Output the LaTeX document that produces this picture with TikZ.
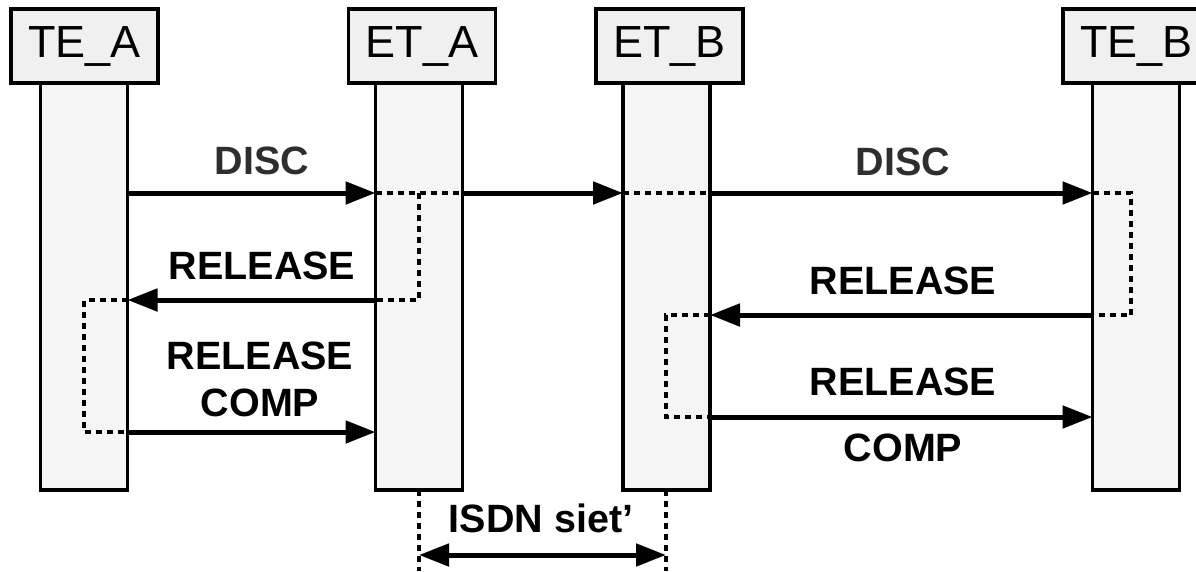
\documentclass[tikz,border=0pt]{standalone}
\usepackage{fontspec}
\setmainfont{Liberation Sans}
\usetikzlibrary{arrows.meta}
\begin{document}
\begin{tikzpicture}[x=1pt,y=-1pt,
  hdr/.style={draw,line width=3.5pt,fill=black!6,minimum width=147pt,minimum height=74pt,inner sep=0pt,outer sep=0pt,font=\fontsize{45}{50}\selectfont},
  lifebar/.style={draw,line width=3.5pt,fill=black!4,minimum width=87pt,minimum height=407pt,inner sep=0pt,outer sep=0pt},
  msg/.style={line width=5pt,-{Triangle[length=30pt,width=22pt]}},
  dmsg/.style={line width=5pt,{Triangle[length=30pt,width=22pt]}-{Triangle[length=30pt,width=22pt]}},
  dots/.style={line width=3.5pt,dash pattern=on 6pt off 5pt},
  lbl/.style={font=\bfseries\fontsize{39.5}{43}\selectfont,inner sep=0pt},
  glbl/.style={lbl,text=black!82}
]
\path[use as bounding box] (0,0) rectangle (1196,571);
\clip (0,0) rectangle (1196,571);
% lifelines
\node[lifebar] (bTA) at (84,286.5) {};
\node[lifebar] (bEA) at (419,286.5) {};
\node[lifebar] (bEB) at (666.5,286.5) {};
\node[lifebar] (bTB) at (1136,286.5) {};
% headers
\node[hdr] (hTA) at (84.5,46) {TE\_A};
\node[hdr] (hEA) at (422,46) {ET\_A};
\node[hdr] (hEB) at (669.5,46) {ET\_B};
\node[hdr] (hTB) at (1136.5,46) {TE\_B};
% named coordinates for the loops
\coordinate (eaTurn) at (419,300);
\coordinate (taTop) at (84,300);
\coordinate (taBot) at (84,432);
\coordinate (tbTop) at (1131,193);
\coordinate (tbBot) at (1131,315);
\coordinate (ebTop) at (666,315);
\coordinate (ebBot) at (666,417);
% DISC
\draw[msg] (bTA.east |- 0,193) -- (bEA.west |- 0,193);
\draw[dots] (bEA.west |- 0,193) -- (bEA.east |- 0,193);
\draw[msg] (bEA.east |- 0,193) -- (bEB.west |- 0,193);
\draw[dots] (bEB.west |- 0,193) -- (bEB.east |- 0,193);
\draw[msg] (bEB.east |- 0,193) -- (bTB.west |- 0,193);
% ET_A loop
\draw[dots] (419,193) -- (eaTurn) -- (bEA.west |- eaTurn);
\draw[msg] (bEA.west |- eaTurn) -- (bTA.east |- taTop);
% TE_A loop
\draw[dots] (bTA.east |- taTop) -- (taTop) -- (taBot) -- (bTA.east |- taBot);
\draw[msg] (bTA.east |- taBot) -- (bEA.west |- taBot);
% TE_B loop
\draw[dots] (bTB.west |- tbTop) -- (tbTop) -- (tbBot) -- (bTB.west |- tbBot);
\draw[msg] (bTB.west |- tbBot) -- (bEB.east |- ebTop);
% ET_B loop
\draw[dots] (bEB.east |- ebTop) -- (ebTop) -- (ebBot) -- (bEB.east |- ebBot);
\draw[msg] (bEB.east |- ebBot) -- (bTB.west |- ebBot);
% ISDN network
\coordinate (isL) at (419,571);
\coordinate (isR) at (666,571);
\draw[dots] (bEA.south) -- (isL);
\draw[dots] (bEB.south -| ebTop) -- (isR);
\draw[dmsg] (419,555) -- (666,555);
% labels
\node[glbl] (l1) at (262,161) {DISC};
\node[glbl] (l2) at (903,162) {DISC};
\node[lbl] (l3) at (262,266) {RELEASE};
\node[lbl] (l4) at (260,356) {RELEASE};
\node[lbl] (l5) at (260,403) {COMP};
\node[lbl] (l6) at (903,281) {RELEASE};
\node[lbl] (l7) at (903,382) {RELEASE};
\node[lbl] (l8) at (903,448) {COMP};
\node[lbl] (l9) at (541,518) {ISDN siet’};
\end{tikzpicture}
\end{document}
